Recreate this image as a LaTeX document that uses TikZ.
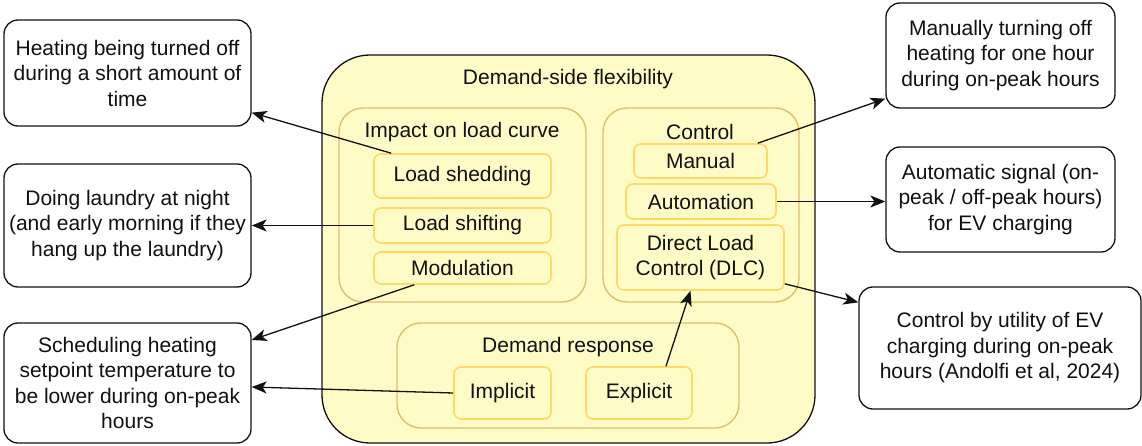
\documentclass[tikz,border=0pt]{standalone}
\usepackage{fontspec}
\setmainfont{Liberation Sans}
\usetikzlibrary{arrows.meta,calc}
\usepackage{xcolor}
\definecolor{paleyel}{HTML}{FFFBC6}
\definecolor{grpline}{HTML}{DCC070}
\definecolor{itemline}{HTML}{FFD966}
\definecolor{ink}{HTML}{111111}
\tikzset{
  >={Stealth[length=15pt,width=12pt,inset=4pt]},
  every node/.style={font=\fontsize{21}{25.5}\selectfont,text=ink,inner sep=0pt},
  outerbox/.style={draw=ink,line width=1.3pt,fill=paleyel,rounded corners=48pt},
  grpbox/.style={draw=grpline,line width=1.4pt,fill=paleyel,rounded corners=24pt},
  itembox/.style={draw=itemline,line width=1.6pt,fill=paleyel,rounded corners=7pt,align=center},
  txtbox/.style={draw=ink,line width=1.3pt,fill=white,rounded corners=14pt,align=center},
  title/.style={align=center},
  arrow/.style={->,line width=1.3pt,draw=ink},
}

\begin{document}
\begin{tikzpicture}[x=1pt,y=-1pt]
\useasboundingbox (0,0) rectangle (1142,446);

% flexibility frame
\node[outerbox,minimum width=493pt,minimum height=388pt] (dsf) at (568.5,249) {};
\node[title] (dsftitle) at (568,79) {Demand-side flexibility};

% groups
\node[grpbox,minimum width=247pt,minimum height=194pt] (impact) at (462.5,205) {};
\node[title] (impacttitle) at (462,132) {Impact on load curve};
\node[grpbox,minimum width=196pt,minimum height=194pt] (ctrl) at (701,205) {};
\node[title] (ctrltitle) at (700,132) {Control};
\node[grpbox,minimum width=342pt,minimum height=105pt] (dr) at (568,375.5) {};
\node[title] (drtitle) at (568,347) {Demand response};

% items
\node[itembox,minimum width=177pt,minimum height=44pt] (shed) at (462.5,176) {Load shedding};
\node[itembox,minimum width=177pt,minimum height=35pt] (shift) at (462.5,225.5) {Load shifting};
\node[itembox,minimum width=177pt,minimum height=32pt] (modul) at (462.5,268) {Modulation};
\node[itembox,minimum width=133pt,minimum height=34pt] (manual) at (700.5,161) {Manual};
\node[itembox,minimum width=150pt,minimum height=35pt] (autom) at (701,201.5) {Automation};
\node[itembox,minimum width=167pt,minimum height=65pt] (dlc) at (700.5,257.5) {Direct Load\\Control (DLC)};
\node[itembox,minimum width=97pt,minimum height=52pt] (impl) at (502.5,393) {Implicit};
\node[itembox,minimum width=106pt,minimum height=52pt] (expl) at (639,393) {Explicit};

% examples left
\node[txtbox,minimum width=247pt,minimum height=106pt] (heat) at (127.5,73) {Heating being turned off\\during a short amount of\\time};
\node[txtbox,minimum width=247pt,minimum height=123pt] (laundry) at (127.5,225.5) {Doing laundry at night\\(and early morning if they\\hang up the laundry)};
\node[txtbox,minimum width=247pt,minimum height=120pt] (sched) at (127.5,383) {Scheduling heating\\setpoint temperature to\\be lower during on-peak\\hours};

% examples right
\node[txtbox,minimum width=229pt,minimum height=105pt] (manoff) at (1000.5,55.5) {Manually turning off\\heating for one hour\\during on-peak hours};
\node[txtbox,minimum width=229pt,minimum height=105pt] (autosig) at (1000.5,199.5) {Automatic signal (on-\\peak / off-peak hours)\\for EV charging};
\node[txtbox,minimum width=282pt,minimum height=122pt] (utility) at (1000,348) {Control by utility of EV\\charging during on-peak\\hours (Andolfi et al, 2024)};

% arrows
\draw[arrow] ($(shed.north west)+(18,0)$) -- ($(heat.south east)+(0,-14)$);
\draw[arrow] (shift.west) -- (laundry.east);
\draw[arrow] ($(modul.south west)+(41,0)$) -- ($(sched.east)+(0,-43)$);
\draw[arrow] (impl.west) -- ($(sched.east)+(0,4)$);
\draw[arrow] ($(manual.north east)+(-10,0)$) -- ($(manoff.south west)+(0,-10)$);
\draw[arrow] (autom.east) -- (autom.east -| autosig.west);
\draw[arrow] ($(dlc.south east)+(0,-7)$) -- ($(utility.north west)+(0,16)$);
\draw[arrow] ($(expl.north)+(27,0)$) -- ($(dlc.south)+(-10,0)$);

\end{tikzpicture}
\end{document}
